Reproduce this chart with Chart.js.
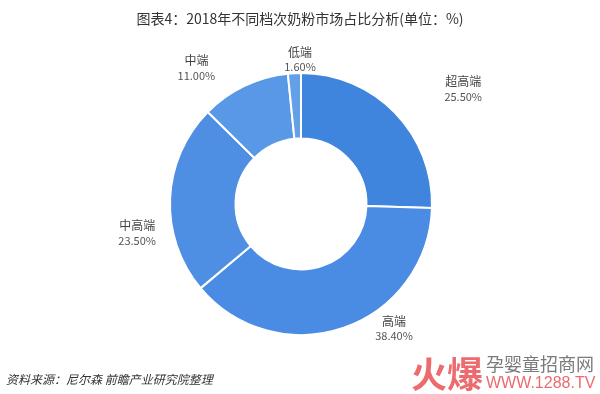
<!DOCTYPE html>
<html>
<head>
<meta charset="utf-8">
<script src="https://cdn.jsdelivr.net/npm/chart.js@4.4.1/dist/chart.umd.min.js"></script>
<style>
  html, body { margin: 0; padding: 0; background: #fff; }
  #wrap { width: 600px; height: 394px; position: relative; }
</style>
</head>
<body>
<div id="wrap"><canvas id="milkChart" width="600" height="394"></canvas></div>
<script>
// 2018 milk powder market share by tier (%)
const categories = ['超高端', '高端', '中高端', '中端', '低端'];
const shares = [25.5, 38.4, 23.5, 11.0, 1.6];
const sliceColors = ['#3f85dd', '#4a8be3', '#4e8fe4', '#5898e6', '#64a0e8'];
// nudges for each label, relative to a point just outside the slice
const labelNudge = [[48, -5], [41, -26], [-5, 35], [-36, 7], [7, 14]];

const CJK = '"Noto Sans CJK SC", "Noto Sans", sans-serif';

const textPlugin = {
    id: 'textPlugin',
    afterDraw(chart) {
        const ctx = chart.ctx;
        const arcs = chart.getDatasetMeta(0).data;
        ctx.save();
        ctx.textAlign = 'center';
        ctx.textBaseline = 'middle';

        // slice labels
        arcs.forEach((arc, i) => {
            const mid = (arc.startAngle + arc.endAngle) / 2;
            const r = arc.outerRadius + 28;
            const x = arc.x + Math.cos(mid) * r + labelNudge[i][0];
            const y = arc.y + Math.sin(mid) * r + labelNudge[i][1];
            ctx.fillStyle = '#444';
            ctx.font = '12px ' + CJK;
            ctx.fillText(categories[i], x, y - 7);
            ctx.fillStyle = '#555';
            ctx.font = '11px ' + CJK;
            ctx.fillText(shares[i].toFixed(2) + '%', x, y + 8);
        });

        // title
        ctx.fillStyle = '#333';
        ctx.font = '14px ' + CJK;
        ctx.fillText('图表4：2018年不同档次奶粉市场占比分析(单位：%)', 300, 19);

        // source
        ctx.textAlign = 'left';
        ctx.fillStyle = '#333';
        ctx.font = 'italic 12px ' + CJK;
        ctx.fillText('资料来源：尼尔森 前瞻产业研究院整理', 6, 379);

        // site mark bottom right
        ctx.fillStyle = '#ec6b6e';
        ctx.font = 'bold 36px ' + CJK;
        ctx.fillText('火爆', 411, 374);
        ctx.fillStyle = '#7a7a7a';
        ctx.font = '18px ' + CJK;
        ctx.fillText('孕婴童招商网', 486, 364);
        ctx.fillStyle = '#ec6b6e';
        ctx.font = '16px "Liberation Sans", Arial, sans-serif';
        ctx.fillText('WWW.1288.TV', 486, 384);
        ctx.restore();
    }
};

const ctxMilk = document.getElementById('milkChart').getContext('2d');
const milkChart = new Chart(ctxMilk, {
    type: 'doughnut',
    data: {
        labels: categories,
        datasets: [{
            data: shares,
            backgroundColor: sliceColors,
            borderColor: '#ffffff',
            borderWidth: 2,
            hoverOffset: 0
        }]
    },
    options: {
        responsive: false,
        animation: false,
        cutout: '50%',
        layout: {
            padding: { top: 72, bottom: 58, left: 169, right: 167 }
        },
        plugins: {
            legend: { display: false },
            tooltip: { enabled: false }
        }
    },
    plugins: [textPlugin]
});
</script>
</body>
</html>
